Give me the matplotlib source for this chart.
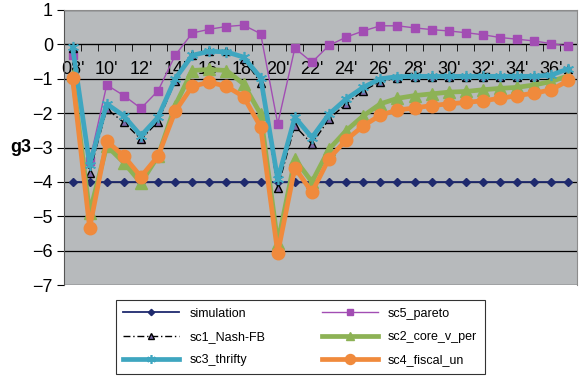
import numpy as np
import matplotlib.pyplot as plt

plt.rcParams.update({
    "font.family": ["Liberation Sans", "DejaVu Sans"],
    "font.size": 13,
})

years = [f"{y % 100:02d}'" for y in range(2008, 2038)]

simulation = [-4.0] * 30
sc5_pareto = [-0.3, -3.4, -1.18, -1.49, -1.86, -1.35, -0.32, 0.33, 0.44, 0.52,
              0.56, 0.31, -2.31, -0.11, -0.52, -0.03, 0.21, 0.39, 0.54, 0.54,
              0.48, 0.43, 0.39, 0.34, 0.28, 0.2, 0.15, 0.1, 0.02, -0.05]
sc1_nash = [-0.1, -3.73, -1.88, -2.27, -2.76, -2.25, -1.07, -0.32, -0.18, -0.2,
            -0.42, -1.12, -4.17, -2.37, -2.9, -2.17, -1.73, -1.35, -1.08, -0.98,
            -0.96, -0.96, -0.96, -0.96, -0.96, -0.96, -0.96, -0.96, -0.92, -0.71]
sc2_core = [-0.9, -4.9, -2.95, -3.44, -4.03, -3.25, -1.78, -0.76, -0.73, -0.76,
            -1.15, -2.03, -5.78, -3.34, -4.0, -3.05, -2.51, -2.08, -1.73, -1.57,
            -1.49, -1.44, -1.39, -1.37, -1.32, -1.28, -1.25, -1.18, -1.08, -0.91]
sc3_thrifty = [-0.08, -3.5, -1.73, -2.08, -2.66, -2.12, -1.0, -0.32, -0.2, -0.22,
               -0.37, -0.97, -3.93, -2.12, -2.71, -2.03, -1.59, -1.25, -1.0, -0.94,
               -0.93, -0.93, -0.93, -0.93, -0.93, -0.93, -0.93, -0.93, -0.89, -0.71]
sc4_fiscal = [-0.97, -5.34, -2.81, -3.25, -3.85, -3.25, -1.95, -1.22, -1.1, -1.22,
              -1.52, -2.4, -6.07, -3.59, -4.3, -3.32, -2.78, -2.37, -2.06, -1.91,
              -1.85, -1.78, -1.73, -1.69, -1.64, -1.57, -1.49, -1.42, -1.32, -1.05]

x = np.arange(len(years))

fig = plt.figure(figsize=(5.79, 3.76), dpi=100)
ax = fig.add_axes([64 / 579, 1 - 285 / 376, 513 / 579, 275 / 376])
ax.set_facecolor("#b7babc")

h_sim, = ax.plot(x, simulation, color="#1f2a6e", lw=1.3, marker="D", ms=4,
                 label="simulation", zorder=3)
h_par, = ax.plot(x, sc5_pareto, color="#a24db3", lw=1.0, marker="s", ms=6,
                 label="sc5_pareto", zorder=4)
h_nash, = ax.plot(x, sc1_nash, color="black", lw=1.0, ls=(0, (5, 2, 1, 2)),
                  marker="^", ms=6, mfc="#7d6aa8", mec="black", mew=1.0,
                  label="sc1_Nash-FB", zorder=5)
h_core, = ax.plot(x, sc2_core, color="#8db255", lw=3.4, marker="^", ms=8,
                  label="sc2_core_v_per", zorder=6)
h_thr, = ax.plot(x, sc3_thrifty, color="#3ea6c0", lw=3.4, marker=(6, 2, 0), ms=8,
                 mec="#3ea6c0", mew=1.2, label="sc3_thrifty", zorder=7)
h_fis, = ax.plot(x, sc4_fiscal, color="#f08a3c", lw=3.4, marker="o", ms=9,
                 label="sc4_fiscal_un", zorder=8)

ax.set_xlim(-0.5, len(years) - 0.5)
ax.set_ylim(-7, 1)
ax.set_yticks(range(-7, 2))
ax.yaxis.grid(True, color="black", lw=0.9)
ax.set_axisbelow(True)

# category axis crosses at zero, ticks on the boundaries
ax.spines["bottom"].set_position(("data", 0))
ax.spines["bottom"].set_color("black")
ax.spines["bottom"].set_zorder(2)
for s in ["top", "right"]:
    ax.spines[s].set_color("#8c8c8c")
ax.spines["left"].set_color("#555555")
ax.set_xticks(np.arange(-0.5, len(years), 1.0), minor=True)
ax.set_xticks(x[::2])
ax.set_xticklabels(years[::2])
ax.tick_params(axis="x", which="major", length=0, pad=12)
ax.tick_params(axis="x", which="minor", length=5, direction="out", color="black")
ax.tick_params(axis="y", length=5, direction="out", pad=3)

ax.set_ylabel("g3", rotation=0, fontweight="bold", fontsize=13,
              va="center", ha="center")
ax.yaxis.set_label_coords(-0.085, 0.5)

leg = fig.legend([h_sim, h_nash, h_thr, h_par, h_core, h_fis],
                 ["simulation", "sc1_Nash-FB", "sc3_thrifty",
                  "sc5_pareto", "sc2_core_v_per", "sc4_fiscal_un"],
                 ncol=2, loc="center", bbox_to_anchor=(300 / 579, 1 - 337 / 376),
                 fontsize=9, frameon=True, fancybox=False, edgecolor="black",
                 handlelength=4.5, columnspacing=4.5, labelspacing=0.9,
                 borderpad=0.6, markerscale=0.8)
leg.get_frame().set_linewidth(0.8)

plt.savefig("out.png", dpi=100)
